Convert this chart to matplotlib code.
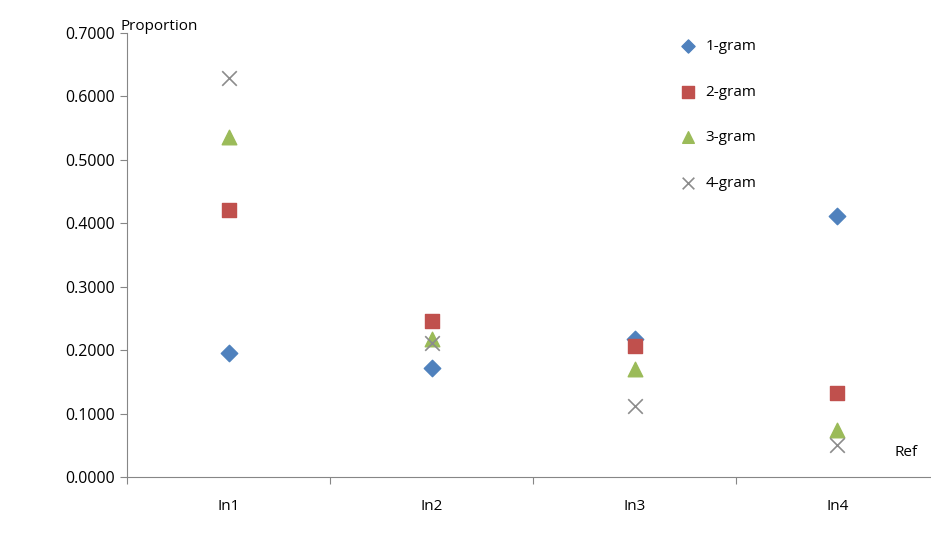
import matplotlib
matplotlib.use("Agg")
import matplotlib.pyplot as plt
from matplotlib.ticker import FormatStrFormatter

categories = ["In1", "In2", "In3", "In4"]
gram1 = [0.196, 0.172, 0.218, 0.412]
gram2 = [0.421, 0.246, 0.207, 0.132]
gram3 = [0.536, 0.218, 0.170, 0.074]
gram4 = [0.629, 0.211, 0.112, 0.050]

plt.rcParams["font.family"] = ["Open Sans", "DejaVu Sans"]
W, H = 931, 550
fig = plt.figure(figsize=(W / 100, H / 100), dpi=100)
ax = fig.add_axes([127 / W, 1 - 477 / H, 812 / W, 444 / H])

x = range(len(categories))
ax.scatter(x, gram1, marker="D", s=70, color="#4F81BD", label="1-gram", zorder=3)
ax.scatter(x, gram2, marker="s", s=110, color="#C0504D", label="2-gram", zorder=3)
ax.scatter(x, gram3, marker="^", s=110, color="#9BBB59", label="3-gram", zorder=3)
ax.scatter(x, gram4, marker="x", s=110, color="#8C8C8C", linewidths=1.2, label="4-gram", zorder=3)

ax.set_xlim(-0.5, 3.5)
ax.set_ylim(0, 0.7)
ax.set_yticks([i / 10 for i in range(8)])
ax.yaxis.set_major_formatter(FormatStrFormatter("%.4f"))
ax.set_xticks([-0.5, 0.5, 1.5, 2.5, 3.5])
ax.set_xticklabels([])
ax.set_xticks(list(x), minor=True)
ax.set_xticklabels(categories, minor=True)
ax.tick_params(axis="x", which="minor", length=0, pad=16, labelsize=11)
ax.tick_params(axis="x", which="major", length=5, direction="out", color="#868686")
ax.tick_params(axis="y", length=5, direction="out", color="#868686", labelsize=11.5)
for side in ["top", "right"]:
    ax.spines[side].set_visible(False)
for side in ["left", "bottom"]:
    ax.spines[side].set_color("#868686")

fig.text(120 / W, 1 - 27 / H, "Proportion", fontsize=11, va="center")
fig.text(895 / W, 1 - 452 / H, "Ref", fontsize=11, va="center")

ax.legend(loc="upper left", bbox_to_anchor=(0.665, 1.0), frameon=False,
          fontsize=11, handletextpad=0.1, labelspacing=2.0, borderaxespad=0,
          markerscale=0.8)

fig.savefig("out.png", dpi=100)
